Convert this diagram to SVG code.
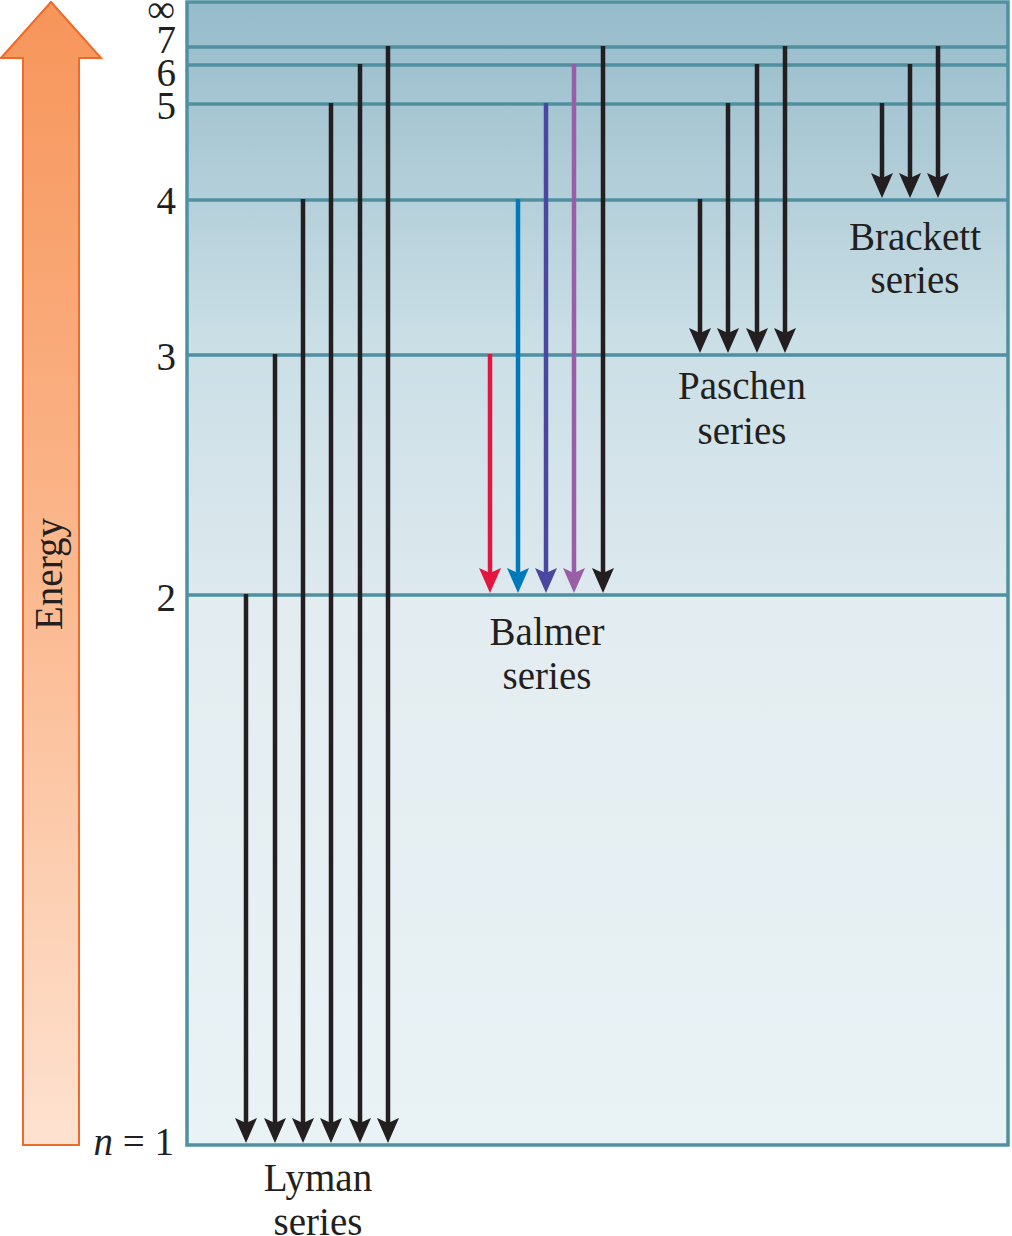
<svg xmlns="http://www.w3.org/2000/svg" width="1012" height="1236" viewBox="0 0 1012 1236">
<style>
text{font-family:"Liberation Serif","Times New Roman",serif;font-size:39px;fill:#231f20}
.lbl{text-anchor:middle}
.num{text-anchor:end}
.lvl{stroke:#4f91a1;stroke-width:3.5;fill:none}
.box{stroke:#4f91a1;stroke-width:3.5;fill:url(#bg)}
.a{stroke-width:4.5;fill:none}
.k{stroke:#231f20}
.r{stroke:#e2163f}
.b{stroke:#0079bb}
.i{stroke:#4a479e}
.v{stroke:#9a5ea8}
</style>
<defs>
<linearGradient id="bg" x1="0" y1="0" x2="0" y2="1">
<stop offset="0" stop-color="#96bbca"/>
<stop offset="0.3" stop-color="#cbdfe6"/>
<stop offset="0.52" stop-color="#dde9ee"/>
<stop offset="0.521" stop-color="#e3edf1"/>
<stop offset="1" stop-color="#e9f2f5"/>
</linearGradient>
<linearGradient id="eg" x1="0" y1="0" x2="0" y2="1">
<stop offset="0" stop-color="#f7955a"/>
<stop offset="0.5" stop-color="#fbb88e"/>
<stop offset="1" stop-color="#fee2d0"/>
</linearGradient>
<marker id="mk" markerUnits="userSpaceOnUse" viewBox="-44 -12 45 24" refX="-18" refY="0" markerWidth="45" markerHeight="24" orient="auto"><path d="M0,0 L-25,-11 L-20,0 L-25,11 Z" fill="#231f20"/></marker>
<marker id="mr" markerUnits="userSpaceOnUse" viewBox="-44 -12 45 24" refX="-18" refY="0" markerWidth="45" markerHeight="24" orient="auto"><path d="M0,0 L-25,-11 L-20,0 L-25,11 Z" fill="#e2163f"/></marker>
<marker id="mb" markerUnits="userSpaceOnUse" viewBox="-44 -12 45 24" refX="-18" refY="0" markerWidth="45" markerHeight="24" orient="auto"><path d="M0,0 L-25,-11 L-20,0 L-25,11 Z" fill="#0079bb"/></marker>
<marker id="mi" markerUnits="userSpaceOnUse" viewBox="-44 -12 45 24" refX="-18" refY="0" markerWidth="45" markerHeight="24" orient="auto"><path d="M0,0 L-25,-11 L-20,0 L-25,11 Z" fill="#4a479e"/></marker>
<marker id="mv" markerUnits="userSpaceOnUse" viewBox="-44 -12 45 24" refX="-18" refY="0" markerWidth="45" markerHeight="24" orient="auto"><path d="M0,0 L-25,-11 L-20,0 L-25,11 Z" fill="#9a5ea8"/></marker>
</defs>

<g id="energy-axis">
<path d="M51,2 L101,58 L79,58 L79,1145 L23,1145 L23,58 L1,58 Z" fill="url(#eg)" stroke="#ee6a2a" stroke-width="2"/>
<text x="62" y="574" class="lbl" transform="rotate(-90 62 574)">Energy</text>
</g>

<g id="levels">
<rect x="187" y="2" width="821" height="1143" class="box"/>
<line x1="187" y1="47" x2="1008" y2="47" class="lvl"/>
<line x1="187" y1="65" x2="1008" y2="65" class="lvl"/>
<line x1="187" y1="104" x2="1008" y2="104" class="lvl"/>
<line x1="187" y1="200" x2="1008" y2="200" class="lvl"/>
<line x1="187" y1="355" x2="1008" y2="355" class="lvl"/>
<line x1="187" y1="595" x2="1008" y2="595" class="lvl"/>
</g>

<g id="level-labels">
<text x="175" y="22" class="num" font-size="48">∞</text>
<text x="176" y="53" class="num">7</text>
<text x="176" y="86" class="num">6</text>
<text x="176" y="119" class="num">5</text>
<text x="176" y="214" class="num">4</text>
<text x="176" y="370" class="num">3</text>
<text x="176" y="611" class="num">2</text>
<text x="174" y="1155" class="num"><tspan font-style="italic">n</tspan> = 1</text>
</g>

<g id="connectors">
<g id="lyman">
<line x1="246" y1="594" x2="246" y2="1125" class="a k" marker-end="url(#mk)"/>
<line x1="275" y1="354" x2="275" y2="1125" class="a k" marker-end="url(#mk)"/>
<line x1="303" y1="199" x2="303" y2="1125" class="a k" marker-end="url(#mk)"/>
<line x1="331" y1="103" x2="331" y2="1125" class="a k" marker-end="url(#mk)"/>
<line x1="360" y1="64" x2="360" y2="1125" class="a k" marker-end="url(#mk)"/>
<line x1="388" y1="46" x2="388" y2="1125" class="a k" marker-end="url(#mk)"/>
</g>
<g id="balmer">
<line x1="490" y1="354" x2="490" y2="575" class="a r" marker-end="url(#mr)"/>
<line x1="518" y1="199" x2="518" y2="575" class="a b" marker-end="url(#mb)"/>
<line x1="546" y1="103" x2="546" y2="575" class="a i" marker-end="url(#mi)"/>
<line x1="574" y1="64" x2="574" y2="575" class="a v" marker-end="url(#mv)"/>
<line x1="603" y1="46" x2="603" y2="575" class="a k" marker-end="url(#mk)"/>
</g>
<g id="paschen">
<line x1="700" y1="199" x2="700" y2="335" class="a k" marker-end="url(#mk)"/>
<line x1="728" y1="103" x2="728" y2="335" class="a k" marker-end="url(#mk)"/>
<line x1="757" y1="64" x2="757" y2="335" class="a k" marker-end="url(#mk)"/>
<line x1="785" y1="46" x2="785" y2="335" class="a k" marker-end="url(#mk)"/>
</g>
<g id="brackett">
<line x1="882" y1="103" x2="882" y2="180" class="a k" marker-end="url(#mk)"/>
<line x1="910" y1="64" x2="910" y2="180" class="a k" marker-end="url(#mk)"/>
<line x1="938" y1="46" x2="938" y2="180" class="a k" marker-end="url(#mk)"/>
</g>
</g>

<g id="lyman-label"><text x="318" y="1191" class="lbl">Lyman</text><text x="318" y="1235" class="lbl">series</text></g>
<g id="balmer-label"><text x="547" y="645" class="lbl">Balmer</text><text x="547" y="689" class="lbl">series</text></g>
<g id="paschen-label"><text x="742" y="399" class="lbl">Paschen</text><text x="742" y="444" class="lbl">series</text></g>
<g id="brackett-label"><text x="915" y="250" class="lbl">Brackett</text><text x="915" y="293" class="lbl">series</text></g>
</svg>
